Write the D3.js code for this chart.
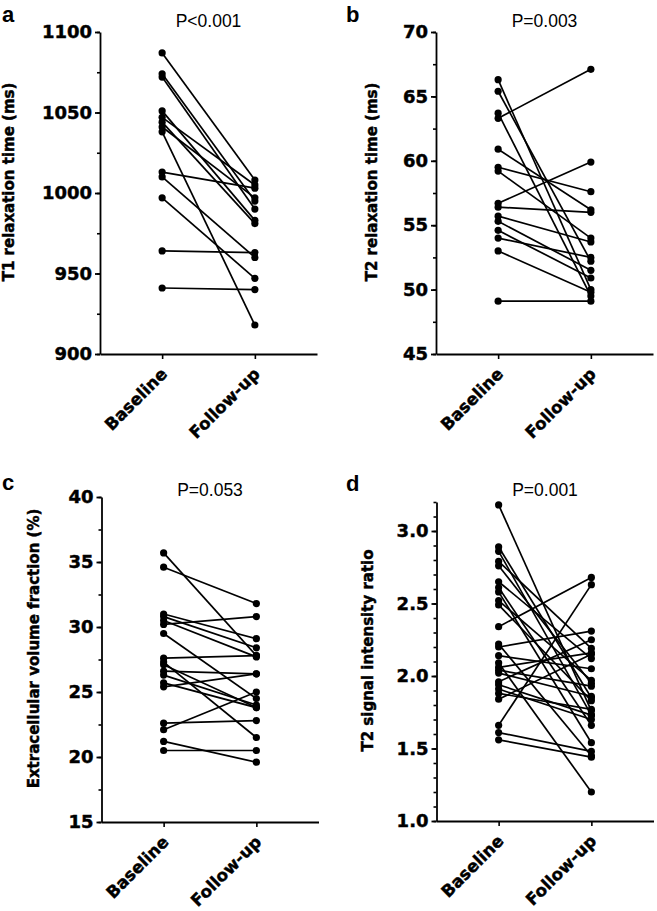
<!DOCTYPE html>
<html>
<head>
<meta charset="utf-8">
<script src="https://cdn.jsdelivr.net/npm/d3@7"></script>
<style>
  body { margin: 0; background: #fff; }
  svg { display: block; }
</style>
</head>
<body>
<svg id="chart"></svg>
<script>
// groups on the x axis
var groups = ["Baseline", "Follow-up"];

// T1 relaxation time (ms), paired per patient
var t1Base   = [1087, 1074, 1072, 1051, 1047, 1044, 1041, 1038, 1013, 1010, 997, 964, 941];
var t1Follow = [1008, 995, 990, 983, 1005, 981, 997, 918, 1003, 960, 947, 963, 940];
var t1Ticks = [900, 950, 1000, 1050, 1100];

// T2 relaxation time (ms)
var t2Base   = [66.3, 65.4, 63.7, 63.3, 60.9, 59.5, 59.2, 56.7, 56.4, 55.7, 55.3, 54.6, 54.0, 53.0, 49.1];
var t2Follow = [50.0, 52.2, 49.5, 67.1, 56.2, 57.6, 54.0, 59.9, 56.0, 53.7, 51.5, 50.9, 52.5, 49.8, 49.1];
var t2Ticks = [45, 50, 55, 60, 65, 70];

// extracellular volume fraction (%)
var ecvBase   = [35.7, 34.6, 31.0, 30.8, 30.5, 30.2, 29.5, 27.6, 27.3, 27.1, 26.6, 26.3, 25.7, 25.4, 22.6, 22.1, 21.2, 20.5];
var ecvFollow = [27.8, 31.8, 29.1, 28.4, 27.7, 30.8, 24.5, 27.8, 21.5, 23.8, 26.4, 24.0, 23.8, 26.4, 22.8, 25.0, 19.6, 20.5];
var ecvTicks = [15, 20, 25, 30, 35, 40];

// T2 signal intensity ratio
var sirBase   = [3.18, 2.89, 2.86, 2.79, 2.76, 2.65, 2.61, 2.58, 2.52, 2.49, 2.34, 2.22, 2.20, 2.14, 2.09, 2.06, 2.04, 2.02, 1.96, 1.94, 1.91, 1.88, 1.84, 1.66, 1.61, 1.56];
var sirFollow = [1.76, 1.85, 1.73, 2.19, 1.95, 2.12, 1.66, 1.54, 1.97, 1.83, 2.68, 1.45, 2.31, 2.05, 1.20, 2.16, 1.93, 1.86, 2.25, 1.73, 1.70, 1.77, 2.15, 2.63, 1.48, 1.44];
var sirTicks = ["1.0", "1.5", "2.0", "2.5", "3.0"];

var panels = [
  {letter: "a", p: "P<0.001", title: "T1 relaxation time (ms)", base: t1Base, follow: t1Follow,
   ticks: t1Ticks, domain: [900, 1100], minor: 25, left: 100, top: 32, bottom: 354,
   titleX: 9, letterX: 2, letterY: 22, pY: 27, fmt: d3.format("d")},
  {letter: "b", p: "P=0.003", title: "T2 relaxation time (ms)", base: t2Base, follow: t2Follow,
   ticks: t2Ticks, domain: [45, 70], minor: 2.5, left: 436, top: 32, bottom: 354,
   titleX: 372, letterX: 346, letterY: 22, pY: 27, fmt: d3.format("d")},
  {letter: "c", p: "P=0.053", title: "Extracellular volume fraction (%)", base: ecvBase, follow: ecvFollow,
   ticks: ecvTicks, domain: [15, 40], minor: 2.5, left: 101.5, top: 497, bottom: 822,
   titleX: 33.5, letterX: 2, letterY: 490, pY: 496, fmt: d3.format("d")},
  {letter: "d", p: "P=0.001", title: "T2 signal intensity ratio", base: sirBase, follow: sirFollow,
   ticks: sirTicks.map(Number), domain: [1.0, 3.2], minor: 0.1, left: 436.5, top: 502, bottom: 821,
   titleX: 368, letterX: 346, letterY: 491, pY: 496, fmt: d3.format(".1f")}
];

var width = 657, height = 911;
var svg = d3.select("#chart").attr("width", width).attr("height", height);
svg.append("rect").attr("width", width).attr("height", height).attr("fill", "#fff");

// heavy bold text, close to the original black face
function heavy(sel, size) {
  sel.attr("font-family", "DejaVu Sans").attr("font-weight", "bold")
    .attr("font-size", size).attr("fill", "#000")
    .attr("stroke", "#000").attr("stroke-width", 0.45);
}

panels.forEach(function(p) {
  var g = svg.append("g");

  var x = d3.scalePoint().domain(groups).range([p.left, p.left + 217]).padding(0.67);
  var y = d3.scaleLinear().domain(p.domain).range([p.bottom, p.top]);

  // minor ticks
  var minorVals = d3.range(p.domain[0], p.domain[1] + p.minor / 2, p.minor);
  g.append("g")
    .attr("transform", "translate(" + p.left + ",0)")
    .call(d3.axisLeft(y).tickValues(minorVals).tickSize(3).tickSizeOuter(0).tickFormat(""))
    .call(function(a) { a.select(".domain").remove(); })
    .selectAll("line").attr("stroke-width", 1.6);

  // major ticks + labels
  var yAx = g.append("g")
    .attr("transform", "translate(" + p.left + ",0)")
    .call(d3.axisLeft(y).tickValues(p.ticks).tickSize(5).tickSizeOuter(0).tickPadding(3).tickFormat(p.fmt));
  yAx.select(".domain").attr("stroke-width", 1.8);
  yAx.selectAll("line").attr("stroke-width", 1.8);
  heavy(yAx.selectAll("text"), 18);

  // x axis
  var xAx = g.append("g")
    .attr("transform", "translate(0," + p.bottom + ")")
    .call(d3.axisBottom(x).tickSize(5).tickSizeOuter(0).tickFormat(""));
  xAx.select(".domain").attr("stroke-width", 1.8);
  xAx.selectAll("line").attr("stroke-width", 1.6);

  heavy(g.selectAll(".xlab")
    .data(groups)
    .enter().append("text")
    .attr("class", "xlab")
    .attr("transform", function(d) { return "translate(" + (x(d) + 6) + "," + (p.bottom + 21) + ") rotate(-45)"; })
    .attr("text-anchor", "end")
    .text(function(d) { return d; }), 16.7);

  // y title
  heavy(g.append("text")
    .attr("transform", "translate(" + p.titleX + "," + ((p.top + p.bottom) / 2 - 11) + ") rotate(-90)")
    .attr("text-anchor", "middle")
    .attr("dy", "0.35em")
    .text(p.title), 15);

  // panel letter
  g.append("text")
    .attr("x", p.letterX)
    .attr("y", p.letterY)
    .attr("font-family", "Liberation Sans, Arial").attr("font-weight", "bold").attr("font-size", 22)
    .text(p.letter);

  // p value
  g.append("text")
    .attr("x", (x(groups[0]) + x(groups[1])) / 2)
    .attr("y", p.pY)
    .attr("text-anchor", "middle")
    .attr("font-family", "Liberation Sans, Arial").attr("font-size", 17.5)
    .text(p.p);

  // paired lines
  var pairs = p.base.map(function(b, i) { return [b, p.follow[i]]; });
  g.selectAll(".pair")
    .data(pairs)
    .enter().append("line")
    .attr("x1", x(groups[0])).attr("x2", x(groups[1]))
    .attr("y1", function(d) { return y(d[0]); })
    .attr("y2", function(d) { return y(d[1]); })
    .attr("stroke", "#000").attr("stroke-width", 1.7);

  // dots
  var pts = [];
  pairs.forEach(function(d) {
    pts.push({g: groups[0], v: d[0]});
    pts.push({g: groups[1], v: d[1]});
  });
  g.selectAll(".dot")
    .data(pts)
    .enter().append("circle")
    .attr("cx", function(d) { return x(d.g); })
    .attr("cy", function(d) { return y(d.v); })
    .attr("r", 3.6)
    .attr("fill", "#000");
});
</script>
</body>
</html>
